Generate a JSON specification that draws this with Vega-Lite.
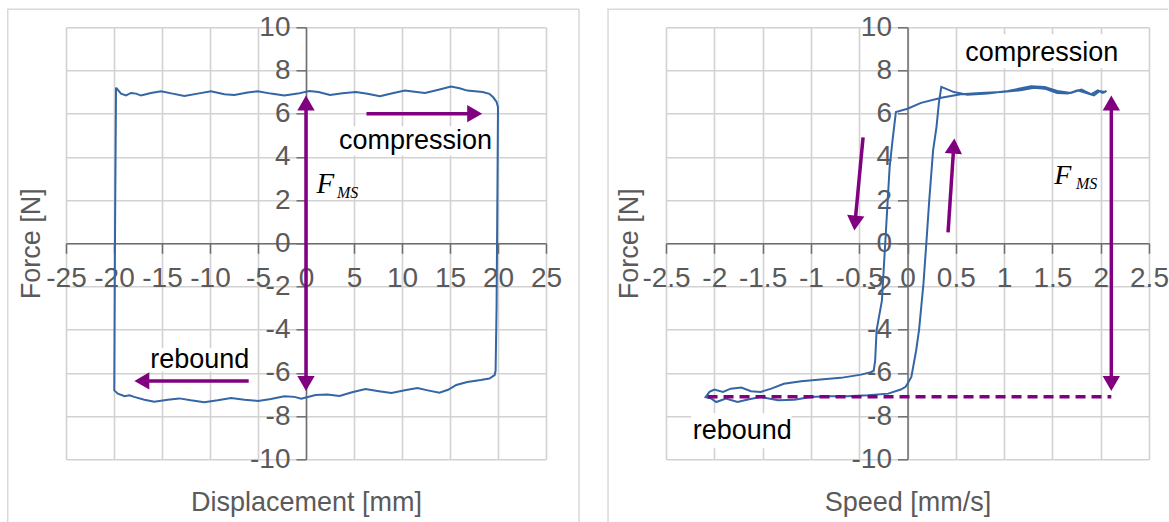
{
  "$schema": "https://vega.github.io/schema/vega-lite/v6.json",
  "autosize": {"type": "pad"},
  "padding": {"left": 6, "top": 8.3, "right": 0, "bottom": 0},
  "bounds": "flush",
  "spacing": 120,
  "background": "white",
  "config": {
    "view": {"stroke": null},
    "locale": {"number": {"decimal": ".", "thousands": ",", "grouping": [3], "currency": ["$", ""], "minus": "-"}},
    "axis": {
      "grid": true, "gridColor": "#d2d2d2", "gridWidth": 1.6,
      "domainColor": "#6e6e6e", "domainWidth": 1.5,
      "tickColor": "#6e6e6e", "tickWidth": 1.5, "tickSize": 10,
      "labelFont": "Liberation Sans", "labelFontSize": 28, "labelColor": "#5a5a5a",
      "titleFont": "Liberation Sans", "titleFontSize": 27, "titleColor": "#5a5a5a", "titleFontWeight": "normal",
      "labelOverlap": false, "labelFlush": false, "labelBound": false
    },
    "axisX": {"labelPadding": 11},
    "axisY": {"labelPadding": 6}
  },
  "datasets": {
    "L_frame": [
      {"x": -31.15, "y": 10.83, "x2": 28.44, "y2": 10.83},
      {"x": -31.07, "y": 10.83, "x2": -31.07, "y2": -12.9},
      {"x": 28.44, "y": 10.83, "x2": 28.44, "y2": -12.9}
    ],
    "L_boxes": [
      {"x": 3.13, "x2": 19.5, "y": 5.42, "y2": 4.07},
      {"x": -16.46, "x2": -5.73, "y": -4.86, "y2": -5.93}
    ],
    "L_curve": [
      {"x": -19.79, "y": 7.21}, {"x": -19.27, "y": 6.93}, {"x": -18.75, "y": 6.85}, {"x": -18.23, "y": 6.96},
      {"x": -17.7, "y": 6.93}, {"x": -17.19, "y": 6.84}, {"x": -16.15, "y": 6.96}, {"x": -15.1, "y": 7.04},
      {"x": -13.9, "y": 6.93}, {"x": -12.67, "y": 6.82}, {"x": -11.28, "y": 6.93}, {"x": -9.9, "y": 7.04},
      {"x": -8.5, "y": 6.9}, {"x": -7.47, "y": 6.87}, {"x": -6.08, "y": 6.98}, {"x": -5.03, "y": 7.04},
      {"x": -3.65, "y": 6.93}, {"x": -2.26, "y": 6.84}, {"x": -0.86, "y": 6.93}, {"x": 0.35, "y": 7.05},
      {"x": 1.3, "y": 7.0}, {"x": 2.5, "y": 6.87}, {"x": 3.8, "y": 6.95}, {"x": 5.2, "y": 7.0},
      {"x": 6.4, "y": 6.92}, {"x": 7.7, "y": 6.81}, {"x": 9.0, "y": 6.95}, {"x": 10.3, "y": 7.07},
      {"x": 11.3, "y": 7.02}, {"x": 12.4, "y": 6.96}, {"x": 13.7, "y": 7.1}, {"x": 15.1, "y": 7.26},
      {"x": 16.0, "y": 7.18}, {"x": 16.8, "y": 7.07}, {"x": 18.4, "y": 7.0}, {"x": 19.1, "y": 6.92},
      {"x": 19.5, "y": 6.76}, {"x": 19.85, "y": 6.55}, {"x": 20.0, "y": 6.3}, {"x": 19.95, "y": 3.0},
      {"x": 19.9, "y": 0.0}, {"x": 19.85, "y": -3.0}, {"x": 19.75, "y": -5.9}, {"x": 19.65, "y": -6.1},
      {"x": 19.1, "y": -6.26}, {"x": 18.2, "y": -6.33}, {"x": 16.8, "y": -6.42}, {"x": 15.65, "y": -6.56},
      {"x": 14.8, "y": -6.78}, {"x": 13.9, "y": -6.92}, {"x": 12.8, "y": -6.82}, {"x": 11.6, "y": -6.7},
      {"x": 10.3, "y": -6.8}, {"x": 8.9, "y": -6.93}, {"x": 7.6, "y": -6.85}, {"x": 6.2, "y": -6.75},
      {"x": 4.8, "y": -6.9}, {"x": 3.5, "y": -7.07}, {"x": 2.2, "y": -7.0}, {"x": 1.0, "y": -7.02},
      {"x": -0.5, "y": -7.2}, {"x": -1.2, "y": -7.11}, {"x": -2.26, "y": -7.08}, {"x": -3.65, "y": -7.21},
      {"x": -5.0, "y": -7.3}, {"x": -6.4, "y": -7.24}, {"x": -7.8, "y": -7.16}, {"x": -9.2, "y": -7.27},
      {"x": -10.6, "y": -7.36}, {"x": -12.0, "y": -7.27}, {"x": -13.2, "y": -7.18}, {"x": -14.4, "y": -7.24},
      {"x": -15.8, "y": -7.33}, {"x": -16.84, "y": -7.24}, {"x": -17.9, "y": -7.11}, {"x": -18.4, "y": -7.04},
      {"x": -18.9, "y": -7.08}, {"x": -19.6, "y": -6.96}, {"x": -19.97, "y": -6.81}, {"x": -19.9, "y": 0.0},
      {"x": -19.79, "y": 7.21}
    ],
    "L_shafts": [
      {"x": 0, "y": -6.2, "x2": 0, "y2": 6.2},
      {"x": 6.3, "y": 6.0, "x2": 17.3, "y2": 6.0},
      {"x": -5.97, "y": -6.37, "x2": -16.6, "y2": -6.37}
    ],
    "L_heads": [
      {"x": 0, "y": 6.49, "heading": 0},
      {"x": 0, "y": -6.49, "heading": 180},
      {"x": 17.57, "y": 6.0, "heading": 90},
      {"x": -17.1, "y": -6.37, "heading": 270}
    ],
    "L_text": [
      {"label": "compression", "x": 11.4, "y": 4.35},
      {"label": "rebound", "x": -11.07, "y": -5.76}
    ],
    "L_F": [{"label": "F", "x": 1.1, "y": 2.31}],
    "L_MS": [{"label": "MS", "x": 3.23, "y": 2.1}],
    "R_frame": [
      {"x": -3.108, "y": 10.83, "x2": 2.7, "y2": 10.83},
      {"x": -3.1, "y": 10.83, "x2": -3.1, "y2": -12.9}
    ],
    "R_boxes": [
      {"x": 0.55, "x2": 2.23, "y": 9.68, "y2": 8.1},
      {"x": -2.24, "x2": -1.2, "y": -7.87, "y2": -9.49}
    ],
    "R_curve": [
      {"x": -0.02, "y": -6.65}, {"x": 0.04, "y": -6.19}, {"x": 0.09, "y": -4.95}, {"x": 0.12, "y": -4.0},
      {"x": 0.165, "y": -1.88}, {"x": 0.195, "y": 0.0}, {"x": 0.225, "y": 1.98}, {"x": 0.265, "y": 4.3},
      {"x": 0.3, "y": 5.38}, {"x": 0.325, "y": 6.5}, {"x": 0.35, "y": 7.24}, {"x": 0.48, "y": 7.0},
      {"x": 0.62, "y": 6.88}, {"x": 0.83, "y": 6.93}, {"x": 1.04, "y": 7.05}, {"x": 1.28, "y": 7.27},
      {"x": 1.42, "y": 7.24}, {"x": 1.55, "y": 7.05}, {"x": 1.69, "y": 6.96}, {"x": 1.8, "y": 7.12},
      {"x": 1.9, "y": 6.9}, {"x": 1.97, "y": 7.08}, {"x": 2.02, "y": 6.96}, {"x": 2.06, "y": 7.06},
      {"x": 2.04, "y": 7.0}, {"x": 1.99, "y": 7.05}, {"x": 1.93, "y": 6.85}, {"x": 1.87, "y": 6.93},
      {"x": 1.76, "y": 7.08}, {"x": 1.66, "y": 6.93}, {"x": 1.55, "y": 6.96}, {"x": 1.42, "y": 7.16},
      {"x": 1.31, "y": 7.2}, {"x": 1.17, "y": 7.08}, {"x": 0.97, "y": 7.0}, {"x": 0.76, "y": 6.96},
      {"x": 0.55, "y": 6.9}, {"x": 0.35, "y": 6.74}, {"x": 0.14, "y": 6.5}, {"x": 0.0, "y": 6.23},
      {"x": -0.12, "y": 6.08}, {"x": -0.155, "y": 4.76}, {"x": -0.185, "y": 3.52}, {"x": -0.205, "y": 1.98},
      {"x": -0.225, "y": 0.43}, {"x": -0.245, "y": -1.11}, {"x": -0.265, "y": -2.66}, {"x": -0.32, "y": -4.03},
      {"x": -0.335, "y": -5.44}, {"x": -0.35, "y": -5.9}, {"x": -0.38, "y": -5.97}, {"x": -0.48, "y": -6.08},
      {"x": -0.69, "y": -6.23}, {"x": -0.9, "y": -6.31}, {"x": -1.1, "y": -6.39}, {"x": -1.28, "y": -6.5},
      {"x": -1.41, "y": -6.73}, {"x": -1.52, "y": -6.88}, {"x": -1.62, "y": -6.85}, {"x": -1.72, "y": -6.68},
      {"x": -1.83, "y": -6.73}, {"x": -1.91, "y": -6.88}, {"x": -2.0, "y": -6.77}, {"x": -2.05, "y": -6.88},
      {"x": -2.09, "y": -7.12}, {"x": -2.03, "y": -7.19}, {"x": -1.98, "y": -7.35}, {"x": -1.88, "y": -7.19},
      {"x": -1.76, "y": -7.35}, {"x": -1.64, "y": -7.22}, {"x": -1.52, "y": -7.12}, {"x": -1.34, "y": -7.27},
      {"x": -1.17, "y": -7.24}, {"x": -1.0, "y": -7.12}, {"x": -0.83, "y": -7.08}, {"x": -0.62, "y": -7.08},
      {"x": -0.41, "y": -7.04}, {"x": -0.2, "y": -6.96}, {"x": -0.07, "y": -6.77}, {"x": -0.02, "y": -6.65}
    ],
    "R_shafts": [
      {"x": 2.11, "y": -6.2, "x2": 2.11, "y2": 6.2},
      {"x": 0.42, "y": 0.51, "x2": 0.476, "y2": 4.3},
      {"x": -0.46, "y": 4.9, "x2": -0.538, "y2": 1.2}
    ],
    "R_dash": [{"x": -2.07, "y": -7.1, "x2": 2.11, "y2": -7.1}],
    "R_heads": [
      {"x": 2.11, "y": 6.49, "heading": 0},
      {"x": 2.11, "y": -6.49, "heading": 180},
      {"x": 0.48, "y": 4.5, "heading": 3.8},
      {"x": -0.543, "y": 0.936, "heading": 185.3}
    ],
    "R_text": [
      {"label": "compression", "x": 1.39, "y": 8.43},
      {"label": "rebound", "x": -1.71, "y": -9.04}
    ],
    "R_F": [{"label": "F", "x": 1.52, "y": 2.73}],
    "R_MS": [{"label": "MS", "x": 1.744, "y": 2.53}]
  },
  "hconcat": [
    {
      "width": 480,
      "height": 432,
      "layer": [
        {
          "data": {"name": "L_frame"},
          "mark": {"type": "rule", "color": "#d9d9d9", "strokeWidth": 1.5},
          "encoding": {
            "x": {"field": "x", "type": "quantitative", "scale": {"domain": [-25, 25], "nice": false, "zero": false}},
            "x2": {"field": "x2"},
            "y": {"field": "y", "type": "quantitative", "scale": {"domain": [-10, 10], "nice": false, "zero": false}},
            "y2": {"field": "y2"}
          }
        },
        {
          "data": {"name": "L_boxes"},
          "mark": {"type": "rect", "fill": "white", "strokeWidth": 0},
          "encoding": {
            "x": {"field": "x", "type": "quantitative", "scale": {"domain": [-25, 25], "nice": false, "zero": false}},
            "x2": {"field": "x2"},
            "y": {"field": "y", "type": "quantitative", "scale": {"domain": [-10, 10], "nice": false, "zero": false}},
            "y2": {"field": "y2"}
          }
        },
        {
          "data": {"name": "L_curve"},
          "mark": {"type": "line", "stroke": "#3465a4", "strokeWidth": 2},
          "encoding": {
            "x": {
              "field": "x", "type": "quantitative",
              "scale": {"domain": [-25, 25], "nice": false, "zero": false},
              "axis": {
                "title": "Displacement [mm]", "values": [-25, -20, -15, -10, -5, 0, 5, 10, 15, 20, 25], "format": "~r",
                "offset": -216, "titleX": 240, "titleY": 267, "titleAlign": "center", "titleBaseline": "alphabetic", "titleAngle": 0
              }
            },
            "y": {
              "field": "y", "type": "quantitative",
              "scale": {"domain": [-10, 10], "nice": false, "zero": false},
              "axis": {
                "title": "Force [N]", "values": [-10, -8, -6, -4, -2, 0, 2, 4, 6, 8, 10], "format": "~r",
                "offset": -240, "titleX": -267, "titleY": 216, "titleAlign": "center", "titleBaseline": "alphabetic", "titleAngle": 270
              }
            },
            "order": {"value": null}
          }
        },
        {
          "data": {"name": "L_shafts"},
          "mark": {"type": "rule", "color": "#800080", "strokeWidth": 3.5},
          "encoding": {
            "x": {"field": "x", "type": "quantitative", "scale": {"domain": [-25, 25], "nice": false, "zero": false}},
            "x2": {"field": "x2"},
            "y": {"field": "y", "type": "quantitative", "scale": {"domain": [-10, 10], "nice": false, "zero": false}},
            "y2": {"field": "y2"}
          }
        },
        {
          "data": {"name": "L_heads"},
          "mark": {"type": "point", "shape": "triangle-up", "filled": true, "size": 300, "color": "#800080", "opacity": 1, "strokeWidth": 0},
          "encoding": {
            "x": {"field": "x", "type": "quantitative", "scale": {"domain": [-25, 25], "nice": false, "zero": false}},
            "y": {"field": "y", "type": "quantitative", "scale": {"domain": [-10, 10], "nice": false, "zero": false}},
            "angle": {"field": "heading", "type": "quantitative", "scale": {"domain": [0, 360], "range": [0, 360]}}
          }
        },
        {
          "data": {"name": "L_text"},
          "mark": {"type": "text", "font": "Liberation Sans", "fontSize": 27, "color": "black", "align": "center", "baseline": "alphabetic"},
          "encoding": {
            "x": {"field": "x", "type": "quantitative", "scale": {"domain": [-25, 25], "nice": false, "zero": false}},
            "y": {"field": "y", "type": "quantitative", "scale": {"domain": [-10, 10], "nice": false, "zero": false}},
            "text": {"field": "label"}
          }
        },
        {
          "data": {"name": "L_F"},
          "mark": {"type": "text", "font": "Liberation Serif", "fontStyle": "italic", "fontSize": 29, "color": "black", "align": "left", "baseline": "alphabetic"},
          "encoding": {
            "x": {"field": "x", "type": "quantitative", "scale": {"domain": [-25, 25], "nice": false, "zero": false}},
            "y": {"field": "y", "type": "quantitative", "scale": {"domain": [-10, 10], "nice": false, "zero": false}},
            "text": {"field": "label"}
          }
        },
        {
          "data": {"name": "L_MS"},
          "mark": {"type": "text", "font": "Liberation Serif", "fontStyle": "italic", "fontSize": 16, "color": "black", "align": "left", "baseline": "alphabetic"},
          "encoding": {
            "x": {"field": "x", "type": "quantitative", "scale": {"domain": [-25, 25], "nice": false, "zero": false}},
            "y": {"field": "y", "type": "quantitative", "scale": {"domain": [-10, 10], "nice": false, "zero": false}},
            "text": {"field": "label"}
          }
        }
      ]
    },
    {
      "width": 483,
      "height": 432,
      "layer": [
        {
          "data": {"name": "R_frame"},
          "mark": {"type": "rule", "color": "#d9d9d9", "strokeWidth": 1.5},
          "encoding": {
            "x": {"field": "x", "type": "quantitative", "scale": {"domain": [-2.5, 2.5], "nice": false, "zero": false}},
            "x2": {"field": "x2"},
            "y": {"field": "y", "type": "quantitative", "scale": {"domain": [-10, 10], "nice": false, "zero": false}},
            "y2": {"field": "y2"}
          }
        },
        {
          "data": {"name": "R_boxes"},
          "mark": {"type": "rect", "fill": "white", "strokeWidth": 0},
          "encoding": {
            "x": {"field": "x", "type": "quantitative", "scale": {"domain": [-2.5, 2.5], "nice": false, "zero": false}},
            "x2": {"field": "x2"},
            "y": {"field": "y", "type": "quantitative", "scale": {"domain": [-10, 10], "nice": false, "zero": false}},
            "y2": {"field": "y2"}
          }
        },
        {
          "data": {"name": "R_curve"},
          "mark": {"type": "line", "stroke": "#3465a4", "strokeWidth": 2},
          "encoding": {
            "x": {
              "field": "x", "type": "quantitative",
              "scale": {"domain": [-2.5, 2.5], "nice": false, "zero": false},
              "axis": {
                "title": "Speed [mm/s]", "values": [-2.5, -2, -1.5, -1, -0.5, 0, 0.5, 1, 1.5, 2, 2.5], "format": "~r",
                "offset": -216, "titleX": 241.5, "titleY": 267, "titleAlign": "center", "titleBaseline": "alphabetic", "titleAngle": 0
              }
            },
            "y": {
              "field": "y", "type": "quantitative",
              "scale": {"domain": [-10, 10], "nice": false, "zero": false},
              "axis": {
                "title": "Force [N]", "values": [-10, -8, -6, -4, -2, 0, 2, 4, 6, 8, 10], "format": "~r",
                "offset": -241.5, "titleX": -269.5, "titleY": 216, "titleAlign": "center", "titleBaseline": "alphabetic", "titleAngle": 270
              }
            },
            "order": {"value": null}
          }
        },
        {
          "data": {"name": "R_dash"},
          "mark": {"type": "rule", "color": "#800080", "strokeWidth": 3.5, "strokeDash": [10, 6]},
          "encoding": {
            "x": {"field": "x", "type": "quantitative", "scale": {"domain": [-2.5, 2.5], "nice": false, "zero": false}},
            "x2": {"field": "x2"},
            "y": {"field": "y", "type": "quantitative", "scale": {"domain": [-10, 10], "nice": false, "zero": false}},
            "y2": {"field": "y2"}
          }
        },
        {
          "data": {"name": "R_shafts"},
          "mark": {"type": "rule", "color": "#800080", "strokeWidth": 3.5},
          "encoding": {
            "x": {"field": "x", "type": "quantitative", "scale": {"domain": [-2.5, 2.5], "nice": false, "zero": false}},
            "x2": {"field": "x2"},
            "y": {"field": "y", "type": "quantitative", "scale": {"domain": [-10, 10], "nice": false, "zero": false}},
            "y2": {"field": "y2"}
          }
        },
        {
          "data": {"name": "R_heads"},
          "mark": {"type": "point", "shape": "triangle-up", "filled": true, "size": 300, "color": "#800080", "opacity": 1, "strokeWidth": 0},
          "encoding": {
            "x": {"field": "x", "type": "quantitative", "scale": {"domain": [-2.5, 2.5], "nice": false, "zero": false}},
            "y": {"field": "y", "type": "quantitative", "scale": {"domain": [-10, 10], "nice": false, "zero": false}},
            "angle": {"field": "heading", "type": "quantitative", "scale": {"domain": [0, 360], "range": [0, 360]}}
          }
        },
        {
          "data": {"name": "R_text"},
          "mark": {"type": "text", "font": "Liberation Sans", "fontSize": 27, "color": "black", "align": "center", "baseline": "alphabetic"},
          "encoding": {
            "x": {"field": "x", "type": "quantitative", "scale": {"domain": [-2.5, 2.5], "nice": false, "zero": false}},
            "y": {"field": "y", "type": "quantitative", "scale": {"domain": [-10, 10], "nice": false, "zero": false}},
            "text": {"field": "label"}
          }
        },
        {
          "data": {"name": "R_F"},
          "mark": {"type": "text", "font": "Liberation Serif", "fontStyle": "italic", "fontSize": 28, "color": "black", "align": "left", "baseline": "alphabetic"},
          "encoding": {
            "x": {"field": "x", "type": "quantitative", "scale": {"domain": [-2.5, 2.5], "nice": false, "zero": false}},
            "y": {"field": "y", "type": "quantitative", "scale": {"domain": [-10, 10], "nice": false, "zero": false}},
            "text": {"field": "label"}
          }
        },
        {
          "data": {"name": "R_MS"},
          "mark": {"type": "text", "font": "Liberation Serif", "fontStyle": "italic", "fontSize": 16, "color": "black", "align": "left", "baseline": "alphabetic"},
          "encoding": {
            "x": {"field": "x", "type": "quantitative", "scale": {"domain": [-2.5, 2.5], "nice": false, "zero": false}},
            "y": {"field": "y", "type": "quantitative", "scale": {"domain": [-10, 10], "nice": false, "zero": false}},
            "text": {"field": "label"}
          }
        }
      ]
    }
  ]
}
